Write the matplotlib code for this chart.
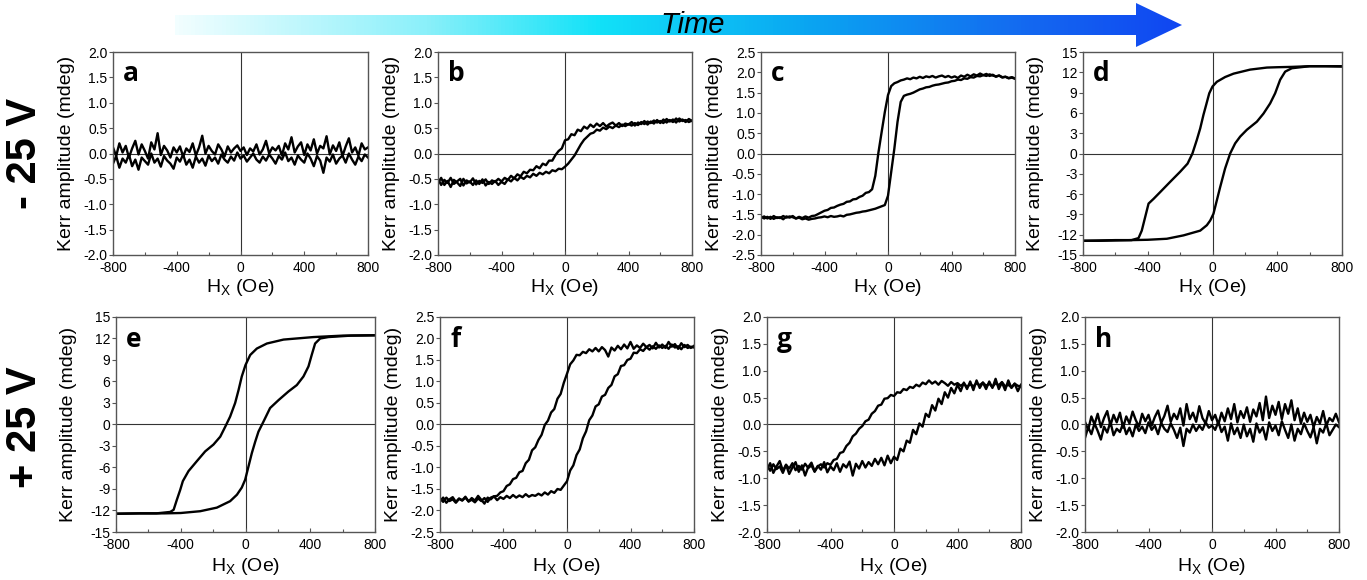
import matplotlib
matplotlib.use('Agg')
import matplotlib.pyplot as plt
from matplotlib.colors import LinearSegmentedColormap
from matplotlib.patches import Polygon
from matplotlib.ticker import MultipleLocator, FormatStrFormatter
import numpy as np

plt.rcParams['font.family'] = ['Liberation Sans', 'DejaVu Sans']
plt.rcParams['axes.unicode_minus'] = False

# field sweep (Oe) for the noisy loops, 20 Oe step
H_GRID = list(range(-800, 801, 20))

# ---- -25 V row ----
a_dn = [0.12, -0.05, 0.20, 0.02, 0.15, -0.08, 0.10, 0.25, -0.02, 0.18,
        0.05, -0.10, 0.22, 0.08, 0.40, -0.03, 0.15, 0.06, -0.08, 0.12,
        0.02, 0.14, -0.06, 0.10, 0.03, 0.20, -0.04, 0.12, 0.35, 0.00,
        0.15, 0.05, -0.02, 0.18, 0.08, -0.06, 0.14, 0.02, 0.10, 0.16,
        0.05, 0.12, -0.03, 0.10, 0.04, 0.18, -0.02, 0.08, 0.25, 0.00,
        0.12, 0.06, 0.15, -0.04, 0.20, 0.08, 0.32, 0.02, 0.14, 0.22,
        -0.03, 0.18, 0.06, 0.28, 0.00, 0.15, 0.10, 0.34, -0.02, 0.16,
        0.05, 0.22, -0.05, 0.14, 0.30, 0.02, 0.12, -0.04, 0.20, 0.08, 0.12]
a_up = [-0.20, -0.05, -0.28, -0.10, -0.18, -0.02, -0.25, -0.12, -0.32, -0.08,
        -0.15, -0.22, 0.00, -0.18, -0.10, -0.26, -0.05, -0.14, -0.20, -0.30,
        -0.08, -0.16, -0.02, -0.22, -0.12, -0.28, -0.06, -0.18, -0.10, -0.24,
        -0.04, -0.15, -0.08, -0.20, -0.02, -0.12, -0.18, -0.06, -0.14, 0.02,
        -0.10, -0.04, -0.16, -0.08, 0.00, -0.12, -0.18, -0.06, -0.14, -0.02,
        -0.10, -0.20, -0.05, -0.12, 0.02, -0.15, -0.08, -0.22, -0.04, -0.12,
        -0.18, 0.00, -0.10, -0.25, -0.05, -0.14, -0.38, -0.08, -0.16, -0.02,
        -0.20, -0.10, -0.04, -0.18, 0.00, -0.12, -0.22, -0.06, -0.15, -0.02, -0.08]

b_dn = [-0.50, -0.62, -0.52, -0.58, -0.48, -0.60, -0.55, -0.50, -0.63, -0.53,
        -0.57, -0.49, -0.61, -0.54, -0.58, -0.51, -0.60, -0.53, -0.56, -0.50,
        -0.55, -0.48, -0.52, -0.44, -0.49, -0.41, -0.45, -0.36, -0.39, -0.32,
        -0.33, -0.25, -0.29, -0.20, -0.23, -0.14, -0.14, -0.03, 0.05, 0.10,
        0.26, 0.28, 0.38, 0.36, 0.47, 0.44, 0.53, 0.49, 0.57, 0.52,
        0.59, 0.54, 0.60, 0.53, 0.58, 0.61, 0.55, 0.60, 0.54, 0.59,
        0.57, 0.62, 0.55, 0.61, 0.58, 0.64, 0.57, 0.63, 0.59, 0.66,
        0.60, 0.67, 0.61, 0.66, 0.62, 0.69, 0.63, 0.67, 0.62, 0.68, 0.64]
b_up = [-0.58, -0.48, -0.62, -0.54, -0.66, -0.52, -0.57, -0.64, -0.50, -0.59,
        -0.55, -0.62, -0.53, -0.60, -0.51, -0.63, -0.56, -0.60, -0.54, -0.62,
        -0.56, -0.60, -0.51, -0.55, -0.48, -0.53, -0.46, -0.50, -0.44, -0.47,
        -0.40, -0.44, -0.38, -0.41, -0.36, -0.39, -0.33, -0.35, -0.30, -0.31,
        -0.26, -0.20, -0.12, -0.04, 0.07, 0.18, 0.27, 0.33, 0.39, 0.41,
        0.47, 0.45, 0.51, 0.48, 0.53, 0.50, 0.55, 0.52, 0.57, 0.54,
        0.58, 0.55, 0.60, 0.56, 0.62, 0.58, 0.63, 0.60, 0.65, 0.61,
        0.64, 0.60, 0.68, 0.63, 0.67, 0.61, 0.69, 0.64, 0.66, 0.62, 0.65]

c_dn = [-1.55, -1.60, -1.56, -1.61, -1.54, -1.59, -1.57, -1.62, -1.55, -1.58,
        -1.54, -1.60, -1.56, -1.59, -1.55, -1.58, -1.54, -1.53, -1.49, -1.45,
        -1.41, -1.39, -1.34, -1.33, -1.29, -1.26, -1.24, -1.19, -1.18, -1.13,
        -1.12, -1.07, -1.04, -0.97, -0.95, -0.88, -0.55, 0.03, 0.53, 1.02,
        1.44, 1.66, 1.73, 1.76, 1.80, 1.82, 1.85, 1.83, 1.87, 1.85,
        1.89, 1.86, 1.90, 1.88, 1.91, 1.87, 1.90, 1.92, 1.88, 1.91,
        1.87, 1.90, 1.86, 1.92, 1.89, 1.94, 1.90, 1.95, 1.92, 1.97,
        1.93, 1.96, 1.91, 1.94, 1.89, 1.92, 1.87, 1.89, 1.85, 1.87, 1.84]
c_up = [-1.59, -1.55, -1.60, -1.56, -1.61, -1.57, -1.59, -1.54, -1.58, -1.55,
        -1.57, -1.60, -1.58, -1.62, -1.60, -1.63, -1.61, -1.60, -1.58, -1.57,
        -1.55, -1.57, -1.54, -1.56, -1.55, -1.53, -1.55, -1.51, -1.50, -1.48,
        -1.46, -1.45, -1.43, -1.42, -1.40, -1.38, -1.36, -1.33, -1.30, -1.27,
        -1.04, -0.46, 0.12, 0.78, 1.27, 1.42, 1.45, 1.47, 1.50, 1.54,
        1.58, 1.60, 1.63, 1.64, 1.67, 1.69, 1.70, 1.72, 1.74, 1.75,
        1.78, 1.79, 1.82, 1.81, 1.85, 1.84, 1.88, 1.87, 1.91, 1.90,
        1.93, 1.91, 1.95, 1.92, 1.90, 1.92, 1.88, 1.89, 1.86, 1.88, 1.85]

# smooth loops: points read along each branch
d_dn_h = [800, 600, 490, 400, 336, 233, 130, 78, 27, 0, -20, -39, -56, -76, -97,
          -124, -154, -200, -262, -323, -364, -395, -416, -437, -457, -500, -600, -700, -800]
d_dn_m = [12.9, 12.9, 12.8, 12.75, 12.7, 12.4, 11.8, 11.3, 10.6, 9.9, 8.9, 7.2, 5.7, 3.7, 2.0,
          0.0, -1.5, -2.7, -4.2, -5.7, -6.7, -7.4, -9.4, -11.4, -12.5, -12.8, -12.85, -12.9, -12.9]
d_up_h = [-800, -700, -600, -500, -400, -282, -179, -76, -35, -14, 6, 27, 47, 78, 109,
          140, 171, 212, 274, 315, 356, 387, 418, 449, 490, 600, 700, 800]
d_up_m = [-12.9, -12.85, -12.8, -12.8, -12.75, -12.6, -12.1, -11.4, -10.6, -9.9, -8.9, -6.9, -5.0, -2.2, 0.0,
          1.5, 2.5, 3.5, 4.7, 5.9, 7.4, 8.9, 10.9, 12.1, 12.6, 12.9, 12.9, 12.85]

# ---- +25 V row ----
e_dn_h = [800, 600, 420, 235, 132, 70, 29, 0, -23, -43, -64, -95, -125, -156, -198,
          -249, -300, -352, -387, -403, -424, -444, -465, -550, -650, -800]
e_dn_m = [12.45, 12.4, 12.2, 11.85, 11.3, 10.6, 9.7, 8.3, 6.7, 4.8, 3.0, 1.1, -0.3, -1.7, -2.8,
          -3.75, -5.1, -6.5, -7.9, -9.1, -10.5, -11.9, -12.2, -12.4, -12.4, -12.45]
e_up_h = [-800, -650, -500, -400, -280, -177, -95, -53, -23, -2, 19, 39, 60, 80, 111,
          152, 204, 265, 317, 358, 389, 409, 430, 461, 512, 650, 800]
e_up_m = [-12.45, -12.4, -12.4, -12.35, -12.1, -11.6, -10.7, -9.8, -8.8, -7.7, -5.8, -4.0, -2.4, -1.0, 0.4,
          2.3, 3.4, 4.6, 5.5, 6.7, 8.1, 9.7, 11.3, 12.0, 12.2, 12.4, 12.45]

f_dn = [-1.72, -1.80, -1.70, -1.78, -1.74, -1.82, -1.73, -1.77, -1.70, -1.79,
        -1.75, -1.81, -1.72, -1.78, -1.71, -1.80, -1.70, -1.67, -1.66, -1.58,
        -1.55, -1.43, -1.39, -1.27, -1.24, -1.11, -1.08, -0.90, -0.82, -0.60,
        -0.53, -0.36, -0.24, -0.01, 0.09, 0.28, 0.36, 0.60, 0.71, 0.97,
        1.18, 1.40, 1.49, 1.62, 1.61, 1.69, 1.66, 1.75, 1.70, 1.78,
        1.70, 1.80, 1.73, 1.58, 1.79, 1.72, 1.83, 1.75, 1.86, 1.77,
        1.92, 1.76, 1.84, 1.78, 1.88, 1.80, 1.85, 1.77, 1.90, 1.79,
        1.86, 1.78, 1.92, 1.81, 1.87, 1.76, 1.89, 1.80, 1.85, 1.78, 1.83]
f_up = [-1.78, -1.70, -1.82, -1.74, -1.69, -1.80, -1.72, -1.76, -1.68, -1.79,
        -1.71, -1.77, -1.66, -1.75, -1.84, -1.70, -1.74, -1.67, -1.76, -1.69,
        -1.73, -1.66, -1.71, -1.64, -1.70, -1.65, -1.69, -1.62, -1.68, -1.64,
        -1.66, -1.61, -1.65, -1.58, -1.63, -1.55, -1.59, -1.50, -1.52, -1.42,
        -1.32, -1.07, -0.95, -0.71, -0.58, -0.32, -0.16, 0.10, 0.21, 0.42,
        0.47, 0.65, 0.69, 0.85, 0.92, 1.12, 1.17, 1.36, 1.38, 1.50,
        1.53, 1.67, 1.66, 1.75, 1.71, 1.80, 1.74, 1.82, 1.76, 1.84,
        1.78, 1.83, 1.76, 1.86, 1.79, 1.82, 1.75, 1.85, 1.78, 1.81, 1.79]

g_dn = [-0.76, -0.86, -0.74, -0.83, -0.78, -0.90, -0.75, -0.82, -0.72, -0.85,
        -0.77, -0.84, -0.73, -0.81, -0.76, -0.88, -0.78, -0.74, -0.80, -0.72,
        -0.75, -0.66, -0.64, -0.53, -0.51, -0.40, -0.34, -0.22, -0.17, -0.08,
        -0.03, 0.06, 0.09, 0.20, 0.25, 0.35, 0.37, 0.48, 0.49, 0.55,
        0.53, 0.60, 0.59, 0.66, 0.64, 0.70, 0.68, 0.74, 0.71, 0.78,
        0.75, 0.82, 0.76, 0.80, 0.74, 0.81, 0.77, 0.72, 0.79, 0.74,
        0.77, 0.72, 0.76, 0.70, 0.75, 0.71, 0.77, 0.73, 0.78, 0.72,
        0.76, 0.70, 0.77, 0.73, 0.79, 0.71, 0.74, 0.69, 0.76, 0.72, 0.71]
g_up = [-0.84, -0.72, -0.90, -0.78, -0.68, -0.86, -0.75, -0.92, -0.80, -0.70,
        -0.88, -0.76, -0.95, -0.79, -0.71, -0.87, -0.77, -0.84, -0.70, -0.89,
        -0.78, -0.85, -0.72, -0.88, -0.74, -0.80, -0.69, -0.95, -0.73, -0.82,
        -0.68, -0.80, -0.70, -0.77, -0.64, -0.74, -0.62, -0.76, -0.58, -0.72,
        -0.60, -0.66, -0.45, -0.50, -0.30, -0.34, -0.10, -0.18, 0.02, -0.04,
        0.20, 0.14, 0.36, 0.26, 0.48, 0.38, 0.60, 0.50, 0.68, 0.58,
        0.74, 0.62, 0.78, 0.66, 0.80, 0.64, 0.82, 0.68, 0.78, 0.66,
        0.80, 0.68, 0.85, 0.66, 0.78, 0.64, 0.82, 0.68, 0.76, 0.62, 0.74]

h_dn = [0.05, -0.10, 0.15, 0.00, 0.20, -0.05, 0.12, 0.25, -0.02, 0.18,
        0.04, 0.22, -0.06, 0.15, 0.02, 0.24, 0.08, -0.04, 0.20, 0.06,
        0.18, -0.02, 0.14, 0.26, 0.03, 0.16, 0.35, 0.05, 0.20, 0.10,
        0.30, -0.02, 0.38, 0.10, 0.22, 0.05, 0.34, 0.12, 0.02, 0.25,
        0.08, 0.18, 0.00, 0.22, 0.06, 0.30, 0.10, 0.38, 0.04, 0.25,
        0.12, 0.32, 0.05, 0.28, 0.15, 0.40, 0.08, 0.52, 0.12, 0.35,
        0.18, 0.42, 0.10, 0.38, 0.20, 0.45, 0.08, 0.30, 0.02, 0.22,
        0.05, 0.18, -0.05, 0.14, 0.02, 0.25, -0.02, 0.12, 0.06, 0.20, 0.04]
h_up = [-0.25, -0.05, -0.18, 0.02, -0.12, -0.28, -0.04, -0.15, 0.05, -0.20,
        -0.08, -0.14, 0.02, -0.18, -0.06, -0.22, 0.00, -0.12, -0.04, -0.16,
        0.04, -0.10, -0.02, -0.18, 0.03, -0.08, -0.14, 0.02, -0.10, -0.25,
        -0.06, -0.40, -0.08, -0.15, 0.00, -0.12, -0.02, -0.10, 0.04, -0.06,
        -0.02, -0.10, 0.05, -0.14, -0.04, -0.30, 0.02, -0.18, -0.06, -0.25,
        0.00, -0.22, -0.08, -0.32, 0.02, -0.15, -0.05, -0.28, 0.04, -0.12,
        -0.02, -0.20, 0.06, -0.10, -0.25, 0.00, -0.30, -0.08, -0.18, 0.02,
        -0.12, -0.24, -0.05, -0.35, -0.08, -0.15, 0.02, -0.20, -0.10, 0.00, -0.05]

W, H = 1367, 580
fig = plt.figure(figsize=(W / 100, H / 100), dpi=100)


def add_px_axes(left, right, top, bottom):
    return fig.add_axes([left / W, 1 - bottom / H, (right - left) / W, (bottom - top) / H])


# letter, pixel box, y range, y step, branches
panels = [
    ('a', (113, 368, 52, 255), 2.0, 0.5, [(H_GRID, a_dn), (H_GRID, a_up)]),
    ('b', (438, 692, 52, 255), 2.0, 0.5, [(H_GRID, b_dn), (H_GRID, b_up)]),
    ('c', (761, 1015, 52, 255), 2.5, 0.5, [(H_GRID, c_dn), (H_GRID, c_up)]),
    ('d', (1083, 1342, 52, 255), 15, 3, [(d_dn_h, d_dn_m), (d_up_h, d_up_m)]),
    ('e', (116, 375, 317, 532), 15, 3, [(e_dn_h, e_dn_m), (e_up_h, e_up_m)]),
    ('f', (440, 694, 317, 532), 2.5, 0.5, [(H_GRID, f_dn), (H_GRID, f_up)]),
    ('g', (767, 1021, 317, 532), 2.0, 0.5, [(H_GRID, g_dn), (H_GRID, g_up)]),
    ('h', (1085, 1339, 317, 532), 2.0, 0.5, [(H_GRID, h_dn), (H_GRID, h_up)]),
]

for letter, box, ymax, ystep, branches in panels:
    ax = add_px_axes(*box)
    ax.axhline(0, color='#333333', lw=0.8, zorder=1)
    ax.axvline(0, color='#333333', lw=0.8, zorder=1)
    for hx, m in branches:
        ax.plot(hx, m, color='black', lw=1.7, zorder=2)
    ax.set_xlim(-800, 800)
    ax.set_ylim(-ymax, ymax)
    ax.xaxis.set_major_locator(MultipleLocator(400))
    ax.xaxis.set_minor_locator(MultipleLocator(200))
    ax.yaxis.set_major_locator(MultipleLocator(ystep))
    if ystep < 1:
        ax.yaxis.set_major_formatter(FormatStrFormatter('%.1f'))
    else:
        ax.yaxis.set_major_formatter(FormatStrFormatter('%d'))
    for sp in ax.spines.values():
        sp.set_color('#555555')
        sp.set_linewidth(1.0)
    ax.tick_params(axis='both', which='both', colors='#555555', labelcolor='black',
                   labelsize=10, width=0.8)
    ax.tick_params(axis='x', which='major', direction='in', length=3, pad=4)
    ax.tick_params(axis='x', which='minor', direction='in', length=2)
    ax.tick_params(axis='y', which='major', direction='out', length=3, pad=1)
    ax.set_ylabel('Kerr amplitude (mdeg)', fontsize=14)
    ax.set_xlabel(r'H$_\mathregular{X}$ (Oe)', fontsize=14)
    ax.yaxis.set_label_coords(-0.15, 0.5)
    ax.xaxis.set_label_coords(0.5, -0.11)
    ax.text(0.04, 0.96, letter, transform=ax.transAxes, ha='left', va='top',
            fontsize=19, fontweight='bold', family=['Open Sans', 'DejaVu Sans'])

# row labels
fig.text(25 / W, 1 - 153 / H, '- 25 V', rotation=90, fontsize=30, fontweight='bold',
         ha='center', va='center')
fig.text(25 / W, 1 - 427 / H, '+ 25 V', rotation=90, fontsize=30, fontweight='bold',
         ha='center', va='center')

# gradient "Time" arrow across the top
ax_arr = fig.add_axes([0, 0, 1, 1], zorder=-1)
ax_arr.axis('off')
arrow_cmap = LinearSegmentedColormap.from_list(
    'time', [(0.0, '#f2feff'), (0.25, '#8af0fa'), (0.42, '#12e2f8'),
             (0.62, '#0aa8f2'), (0.85, '#1468f0'), (1.0, '#1046f2')])
grad = np.linspace(0, 1, 256).reshape(1, -1)
im = ax_arr.imshow(grad, cmap=arrow_cmap, extent=(175, 1182, 47, 3), aspect='auto')
arrow_poly = Polygon([(175, 15), (1136, 15), (1136, 3), (1182, 25), (1136, 47),
                      (1136, 35), (175, 35)], closed=True, transform=ax_arr.transData,
                     facecolor='none', edgecolor='none')
ax_arr.add_patch(arrow_poly)
im.set_clip_path(arrow_poly)
ax_arr.set_xlim(0, W)
ax_arr.set_ylim(H, 0)
ax_arr.text(693, 25, 'Time', style='italic', fontsize=21, ha='center', va='center')

fig.savefig('out.png', dpi=100)
